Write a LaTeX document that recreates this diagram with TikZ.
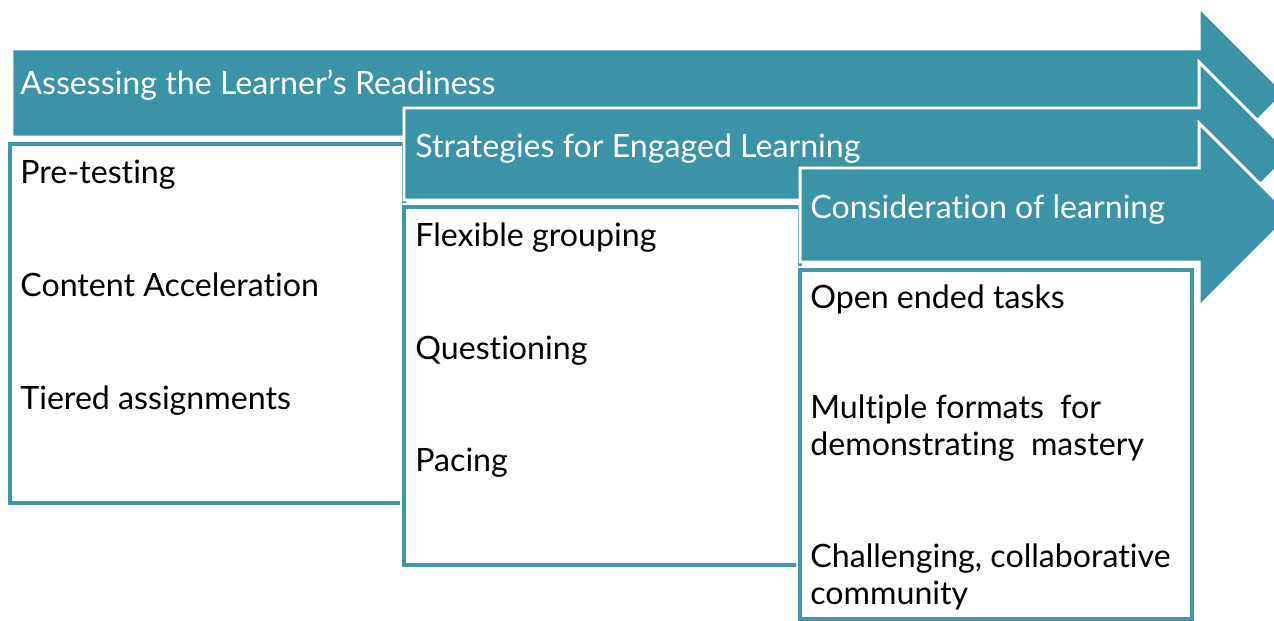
\documentclass[tikz,border=0pt]{standalone}
\usepackage{fontspec}
\setmainfont{Lato}[Ligatures=NoCommon]
\definecolor{tealc}{RGB}{58,147,166}
\definecolor{boxteal}{RGB}{62,151,170}
\def\headnode{\node[anchor=base west,text=white,inner sep=0pt]}
\def\itemnode{\node[anchor=base west,align=left,inner sep=0pt]}
\def\fillarrow{\filldraw[fill=tealc,draw=white,line width=1.7pt,line join=miter]}
\def\drawbox{\draw[fill=white,draw=boxteal,line width=2.6pt,preaction={draw=white,line width=4.2pt}]}

\begin{document}
\begin{tikzpicture}[x=0.02cm,y=-0.02cm,font=\fontsize{18.3}{20.5}\selectfont]
\useasboundingbox (0,0) rectangle (1274,621);
\clip (0,0) rectangle (1274,621);
% first step
\fillarrow (12,49) -- (1199,49) -- (1199,7) -- (1285,93) -- (1199,179) -- (1199,137) -- (12,137) -- cycle;
\headnode (assess) at (20,95) {Assessing the Learner’s Readiness};
\drawbox (10,144) rectangle (404,503);
\itemnode (pretest) at (20,184) {Pre-testing};
\itemnode (accel) at (20,297) {Content Acceleration};
\itemnode (tiered) at (20,409) {Tiered assignments};
% second step
\fillarrow (404,108) -- (1199,108) -- (1199,62) -- (1291,154) -- (1199,246) -- (1199,200) -- (404,200) -- cycle;
\headnode (strat) at (415,158) {Strategies for Engaged Learning};
\drawbox (404,207) rectangle (800,565);
\itemnode (flex) at (415,247) {Flexible grouping};
\itemnode (quest) at (415,359) {Questioning};
\itemnode (pacing) at (415,471) {Pacing};
% third step
\fillarrow (800,168) -- (1199,168) -- (1199,123) -- (1291,215) -- (1199,307) -- (1199,262) -- (800,262) -- cycle;
\headnode (consid) at (810,219) {Consideration of learning};
\drawbox (800,270) rectangle (1192,619);
\itemnode (openend) at (810,309) {Open ended tasks};
\itemnode (multi) at (810,455) {Multiple formats\ \ for\\demonstrating\ \ mastery};
\itemnode (challenge) at (810,604) {Challenging, collaborative\\community};
\end{tikzpicture}
\end{document}
